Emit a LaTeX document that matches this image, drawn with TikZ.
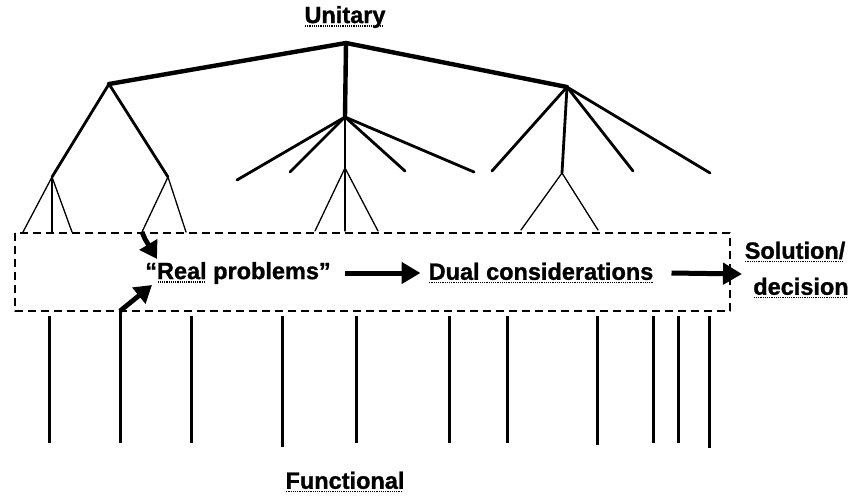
\documentclass[tikz,border=0pt]{standalone}
\usepackage{fontspec}
\setmainfont{Liberation Sans}[BoldFeatures={FakeBold=1.2}]
\usetikzlibrary{arrows.meta}
% dotted underline under a word
\newcommand\dotunder[1]{\setbox0\hbox{#1}\leavevmode\rlap{\usebox0}\raisebox{-3.5pt}{\hbox to \wd0{\leaders\hbox to 2.2pt{\hss\vrule width 1.2pt height 1.2pt depth 0pt\hss}\hfill}}}
\begin{document}
\begin{tikzpicture}[x=1pt,y=-1pt,
  line join=round, line cap=round,
  thickbranch/.style={line width=4.4pt},
  midbranch/.style={line width=2.8pt},
  thinbranch/.style={line width=1.3pt},
  stem/.style={line width=3pt, line cap=butt},
  lbl/.style={font=\fontsize{23.5}{26}\selectfont\bfseries, inner sep=0pt},
  bigarrow/.style={line width=5pt, line cap=butt, -{Triangle[length=19pt,width=21pt]}},
  diagarrow/.style={line width=4.8pt, line cap=butt, -{Triangle[length=17pt,width=20pt]}},
  frame/.style={line width=1.8pt, dash pattern=on 8pt off 5pt, line cap=butt},
]
\useasboundingbox (0,0) rectangle (852,499);

% unitary hierarchy
\coordinate (root) at (346,43);
\coordinate (L) at (109,84);
\coordinate (R) at (567,87);
\coordinate (M) at (345,117);
\coordinate (LL) at (52,177);
\coordinate (LR) at (168,177);
\coordinate (MM) at (345,168);
\coordinate (RR) at (562,173);

\draw[thickbranch] (L) -- (root) -- (R);
\draw[thickbranch] (root) -- (M);

\draw[midbranch] (L) -- (LL);
\draw[midbranch] (L) -- (LR);
\coordinate (m1) at (237,180);
\coordinate (m2) at (290,172);
\coordinate (m3) at (405,171);
\coordinate (m4) at (474,172);
\foreach \c in {m1,m2,m3,m4} \draw[midbranch] (M) -- (\c);
\coordinate (r1) at (492,171);
\coordinate (r3) at (633,171);
\coordinate (r4) at (710,173);
\foreach \c in {r1,RR,r3,r4} \draw[midbranch] (R) -- (\c);

% lowest level, reaching the frame
\coordinate (ll1) at (23,232);
\coordinate (ll2) at (52,232);
\coordinate (ll3) at (72,232);
\coordinate (lr1) at (142,232);
\coordinate (lr2) at (186,232);
\coordinate (mm1) at (315,231);
\coordinate (mm2) at (345,231);
\coordinate (mm3) at (378,231);
\coordinate (rr1) at (521,230);
\coordinate (rr2) at (598,230);
\foreach \c in {ll1,ll2,ll3} \draw[thinbranch] (LL) -- (\c);
\foreach \c in {lr1,lr2} \draw[thinbranch] (LR) -- (\c);
\draw[thinbranch] (M) -- (MM);
\foreach \c in {mm1,mm2,mm3} \draw[thinbranch] (MM) -- (\c);
\foreach \c in {rr1,rr2} \draw[thinbranch] (RR) -- (\c);

% dashed frame
\coordinate (fa) at (15,233);
\coordinate (fb) at (730,311);
\draw[frame] (fa) rectangle (fb);

% functional stems
\foreach \x/\b in {49/443,191/443,282/447,356/443,449/443,507/443,597/445,653/443,678/443,709/448}
  \draw[stem] (\x,316) -- (\x,\b);
\coordinate (st) at (120,311);
\coordinate (sb) at (120,443);
\draw[stem] (st) -- (sb);

% labels
\node[lbl] (unitary) at (345,17) {\dotunder{Unitary}};
\node[lbl] (functional) at (345,482) {\dotunder{Functional}};
\node[lbl] (real) at (238,273) {“\dotunder{Real} problems”};
\node[lbl] (dual) at (541,273) {\dotunder{Dual considerations}};
\node[lbl] (sol) at (795,252) {\dotunder{Solution/}};
\node[lbl] (dec) at (801,288) {\dotunder{decision}};

% arrows
\coordinate (k1) at (145,239);
\coordinate (t1) at (157,259);
\coordinate (t2) at (152,285);
\draw[diagarrow] (lr1) -- (k1) -- (t1);
\draw[diagarrow] (st) -- (t2);
\draw[bigarrow] ([xshift=14pt]real.east) -- ([xshift=-8pt]dual.west);
\draw[bigarrow] ([xshift=18pt]dual.east) -- (742,274);
\end{tikzpicture}
\end{document}
